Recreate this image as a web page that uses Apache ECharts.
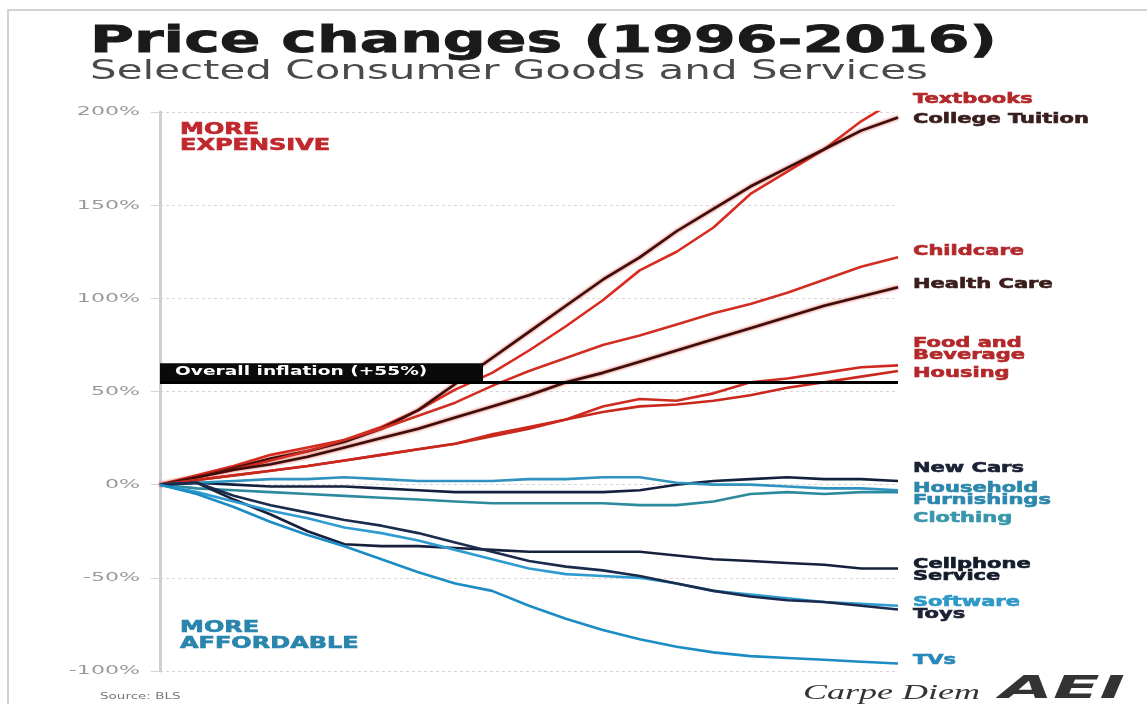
<!DOCTYPE html>
<html><head><meta charset="utf-8">
<script src="https://cdn.jsdelivr.net/npm/echarts@6/dist/echarts.min.js"></script>
<style>html,body{margin:0;padding:0;background:#fff}#c{width:1147px;height:704px}</style>
</head><body><div id="c"></div>
<script>
// ---------- data ----------
const years = [1996,1997,1998,1999,2000,2001,2002,2003,2004,2005,2006,2007,2008,2009,2010,2011,2012,2013,2014,2015,2016];
const textbooks      = [0,5,10,16,20,24,31,40,51,60,72,85,99,115,125,138,156,168,180,195,207];
const collegeTuition = [0,4,9,14,18,23,30,40,54,68,82,96,110,122,136,148,160,170,180,190,197];
const childcare      = [0,4,8,13,18,24,30,37,44,53,61,68,75,80,86,92,97,103,110,117,122];
const healthCare     = [0,4,8,11,15,20,25,30,36,42,48,55,60,66,72,78,84,90,96,101,106];
const foodBeverage   = [0,2.5,5,7.5,10,13,16,19,22,27,31,35,42,46,45,49,55,57,60,63,64];
const housing        = [0,2.5,5,7.5,10,13,16,19,22,26,30,35,39,42,43,45,48,52,55,58,61];
const newCars        = [0,1,0,-1,-1,-1,-2,-3,-4,-4,-4,-4,-4,-3,0,2,3,4,3,3,2];
const furnishings    = [0,1,2,3,3,4,3,2,2,2,3,3,4,4,1,0,0,-1,-2,-2,-3];
const clothing       = [0,-2,-3,-4,-5,-6,-7,-8,-9,-10,-10,-10,-10,-11,-11,-9,-5,-4,-5,-4,-4];
const cellphone      = [0,1,-8,-16,-25,-32,-33,-33,-34,-35,-36,-36,-36,-36,-38,-40,-41,-42,-43,-45,-45];
const software       = [0,-4,-9,-14,-18,-23,-26,-30,-35,-40,-45,-48,-49,-50,-53,-57,-59,-61,-63,-64,-65];
const toys           = [0,1,-6,-11,-15,-19,-22,-26,-31,-36,-41,-44,-46,-49,-53,-57,-60,-62,-63,-65,-67];
const tvs            = [0,-5,-12,-20,-27,-33,-40,-47,-53,-57,-65,-72,-78,-83,-87,-90,-92,-93,-94,-95,-96];
const overallInflation = 55;

const yTickValues = [-100,-50,0,50,100,150,200];
const yTickLabels = ['-100%','-50%','0%','50%','100%','150%','200%'];

const seriesNames = ['Textbooks','College Tuition','Childcare','Health Care','Food and\nBeverage','Housing',
  'New Cars','Household\nFurnishings','Clothing','Cellphone\nService','Software','Toys','TVs'];
const seriesValues = [textbooks,collegeTuition,childcare,healthCare,foodBeverage,housing,
  newCars,furnishings,clothing,cellphone,software,toys,tvs];

// ---------- styles ----------
const lineColors = ['#d92b1f','#3b0e0b','#d12e22','#3b0e0b','#cf2a1f','#c9281d',
  '#142040','#2f92bf','#2d8a9e','#15203c','#2f9bd0','#1b2b4d','#1b8cc4'];
const labelColors = ['#b3282b','#3a1e1e','#b3282b','#3a1e1e','#b3282b','#b3282b',
  '#1c2233','#2c87ad','#3a97ab','#141c2c','#2e98c6','#1c2233','#2888bb'];
const labelDy = [0,2,-6,-3,-16,2,-13,4,26,2,-3,5,-3];
const glow = [false,true,false,true,false,false,false,false,false,false,false,false,false];

const chart = echarts.init(document.getElementById('c'), null, {renderer:'canvas'});
const GRID = {left:160, right:249, top:112, bottom:33};

const series = seriesNames.map((n,i)=>({
  name:n, type:'line', symbol:'none', silent:true, animation:false,
  data: years.map((y,k)=>[y, seriesValues[i][k]]),
  lineStyle:{color:lineColors[i], width:2.6,
    shadowColor: glow[i] ? 'rgba(210,40,30,0.9)' : 'rgba(0,0,0,0)', shadowBlur: glow[i] ? 3 : 0},
  z: 3
}));
series.push({
  type:'line', data:[], silent:true, animation:false,
  markLine:{silent:true, symbol:'none', animation:false,
    lineStyle:{color:'#000', width:3, type:'solid'}, label:{show:false},
    data:[{yAxis: overallInflation}]}, z:4
});

chart.setOption({
  animation:false,
  backgroundColor:'#fff',
  grid:GRID,
  xAxis:{type:'value', min:1996, max:2016, show:false},
  yAxis:{type:'value', min:-100, max:200, interval:50,
    axisLine:{show:true, lineStyle:{color:'#cfcfcf', width:3}},
    axisTick:{show:true, length:9, lineStyle:{color:'#d5d5d5', width:1}},
    axisLabel:{show:false},
    splitLine:{show:true, lineStyle:{color:'#d6d6d6', width:1, type:[3,3]}}
  },
  series
});

// ---------- text annotations ----------
const ctx = document.createElement('canvas').getContext('2d');
function measure(text, size, weight, family, style){
  ctx.font = `${style||'normal'} ${weight||'normal'} ${size}px ${family||'DejaVu Sans'}`;
  return Math.max(...text.split('\n').map(t=>ctx.measureText(t).width));
}
function T(text, x, y, o){
  const fam = o.family || 'DejaVu Sans';
  let sx = o.sx || 1;
  if (o.width) sx = o.width / measure(text, o.size, o.weight, fam, o.italic?'italic':'normal');
  const style = {text, fontSize:o.size, fontWeight:o.weight||'normal', fontFamily:fam,
      fontStyle:o.italic?'italic':'normal', fill:o.color,
      align:o.align||'left', textAlign:o.align||'left',
      verticalAlign:'middle', textVerticalAlign:'middle', lineHeight:o.lh||o.size};
  if (o.sw) { style.stroke = o.color; style.lineWidth = o.sw; }
  return {type:'text', x, y, scaleX:sx, silent:true, z:10, style};
}
const px = (x,y)=>chart.convertToPixel({gridIndex:0},[x,y]);

const g = [];
// frame
g.push({type:'rect', shape:{x:8,y:10,width:1200,height:800}, style:{fill:'none', stroke:'#d2d2d2', lineWidth:2}, silent:true, z:0});
// titles
g.push(T('Price changes (1996-2016)', 90, 42, {size:38, weight:'bold', color:'#1a1a1a', width:907, sw:0.8}));
g.push(T('Selected Consumer Goods and Services', 90, 72, {size:26, color:'#4a4a4a', width:838}));
// y tick labels
yTickValues.forEach((v,i)=>{
  const p = px(1996, v);
  g.push(T(yTickLabels[i], 140, p[1], {size:13, color:'#9a9a9a', sx:1.7, align:'right'}));
});
// region labels
g.push(T('MORE\nEXPENSIVE', 180, 138, {size:15, weight:'bold', color:'#c0282d', sx:1.6, lh:16, sw:0.6}));
g.push(T('MORE\nAFFORDABLE', 180, 636, {size:15, weight:'bold', color:'#2a85ad', sx:1.6, lh:16, sw:0.6}));
// overall inflation box
const pInf = px(1996, overallInflation);
g.push({type:'rect', shape:{x:pInf[0], y:pInf[1]-19, width:323, height:18}, style:{fill:'#0a0a0a'}, silent:true, z:9});
g.push(T('Overall inflation (+55%)', pInf[0]+15, pInf[1]-10, {size:12, weight:'bold', color:'#fff', sx:1.55}));
// series end labels
seriesNames.forEach((n,i)=>{
  const vals = seriesValues[i];
  const p = px(years[years.length-1], vals[vals.length-1]);
  g.push(T(n, p[0]+15, p[1]+labelDy[i], {size:14, weight:'bold', color:labelColors[i], sx:1.5, lh:12.5, sw:0.6}));
});
// footer
g.push(T('Source: BLS', 100, 697, {size:9, color:'#777', sx:1.5}));
g.push(T('Carpe Diem', 803, 693, {size:22, italic:true, family:'Liberation Serif', color:'#333', width:177}));
g.push(T('AEI', 1000, 690, {size:32, weight:'bold', italic:true, color:'#333', width:125}));

chart.setOption({graphic:{elements:g}});
</script></body></html>
